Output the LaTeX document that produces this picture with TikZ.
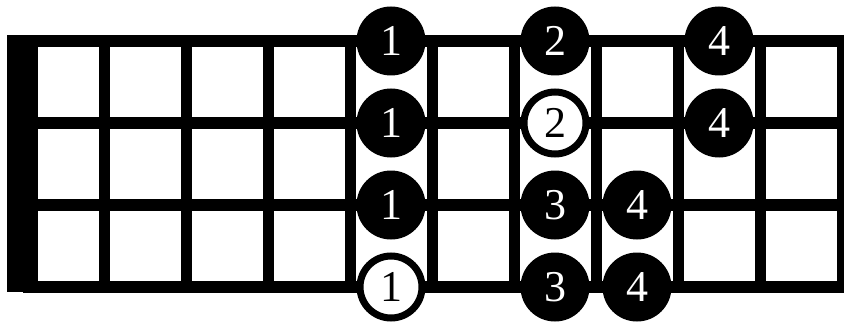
\documentclass[tikz,border=0pt]{standalone}
\usepackage{fontspec}
\setmainfont{Liberation Serif}
\tikzset{
  fretline/.style={line width=11pt},
  stringline/.style={line width=11.5pt},
  fingerdot/.style={circle, fill=black, text=white, minimum size=69pt, inner sep=0pt,
    font=\fontsize{44}{44}\selectfont},
  rootdot/.style={circle, draw=black, line width=7pt, fill=white, text=black, minimum size=62pt, inner sep=0pt,
    font=\fontsize{44}{44}\selectfont}
}
\begin{document}
\begin{tikzpicture}[x=1pt,y=1pt]
            \useasboundingbox (0.0,0.0) rectangle (844.0,322.0);
            
            % Drawing the nut
            \fill (7.0,30.0) rectangle (38.0,287.0);%
            
            % Drawing strings E A D G
            \draw [stringline] (22.5,281.0) -- (850.0,281.0);%
            \draw [stringline] (22.5,199.0) -- (850.0,199.0);%
            \draw [stringline] (22.5,117.0) -- (850.0,117.0);%
            \draw [stringline] (22.5,35.0) -- (850.0,35.0);%
            
            % Drawing frets 1 to 10
            \draw [fretline] (104.5,286.75) -- (104.5,29.25);%
            \draw [fretline] (186.5,286.75) -- (186.5,29.25);%
            \draw [fretline] (268.4,286.75) -- (268.4,29.25);%
            \draw [fretline] (350.4,286.75) -- (350.4,29.25);%
            \draw [fretline] (432.3,286.75) -- (432.3,29.25);%
            \draw [fretline] (514.2,286.75) -- (514.2,29.25);%
            \draw [fretline] (596.2,286.75) -- (596.2,29.25);%
            \draw [fretline] (678.1,286.75) -- (678.1,29.25);%
            \draw [fretline] (760.0,286.75) -- (760.0,29.25);%
            \draw [fretline] (842.0,286.75) -- (842.0,29.25);%
            
            % Marking finger 1 on fret 5
            \node [fingerdot] (gone) at (391.0,281.0) {1};%
            \node [fingerdot] (done) at (391.0,199.0) {1};%
            \node [fingerdot] (aone) at (391.0,117.0) {1};%
            \node [rootdot] (eone) at (391.0,35.0) {1};%
            
            % Marking finger 2 on fret 7
            \node [fingerdot] (gtwo) at (555.0,281.0) {2};%
            \node [rootdot] (dtwo) at (555.0,199.0) {2};%
            
            % Marking finger 3 on fret 7
            \node [fingerdot] (athree) at (555.0,117.0) {3};%
            \node [fingerdot] (ethree) at (555.0,35.0) {3};%
            
            % Marking finger 4 on frets 8 and 9
            \node [fingerdot] (afour) at (637.0,117.0) {4};%
            \node [fingerdot] (efour) at (637.0,35.0) {4};%
            \node [fingerdot] (gfour) at (719.0,281.0) {4};%
            \node [fingerdot] (dfour) at (719.0,199.0) {4};%
        \end{tikzpicture}
\end{document}
